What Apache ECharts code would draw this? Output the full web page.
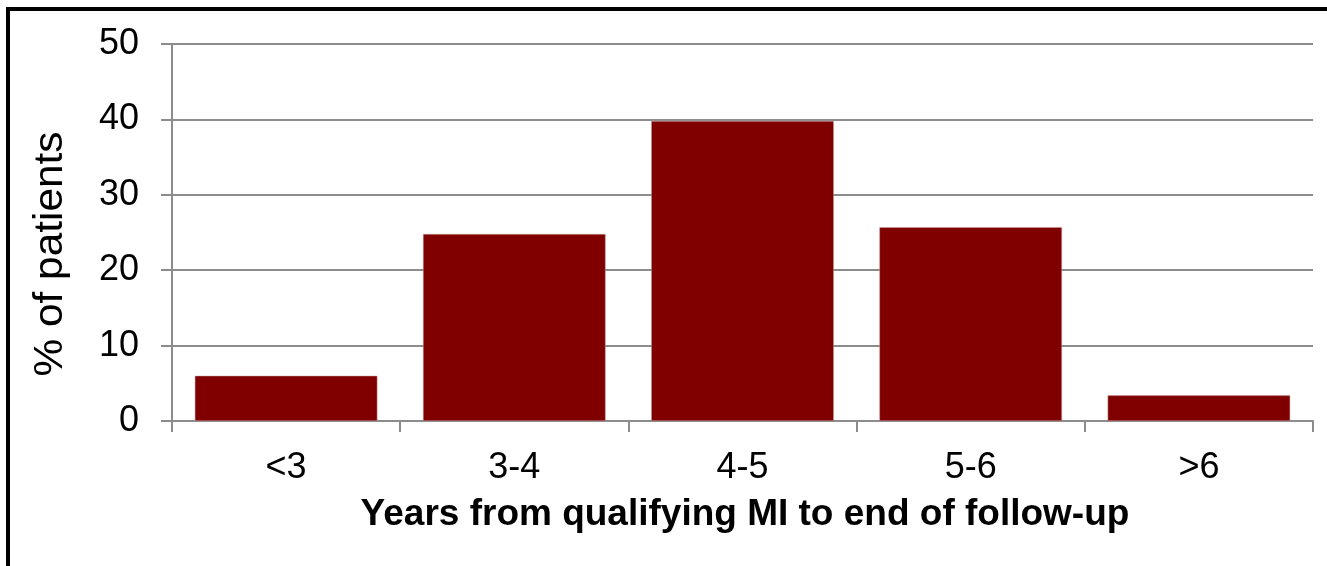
<!DOCTYPE html>
<html>
<head>
<meta charset="utf-8">
<script src="https://cdn.jsdelivr.net/npm/echarts@6/dist/echarts.min.js"></script>
<style>
html,body{margin:0;padding:0;background:#fff;}
#chart{width:1327px;height:566px;}
</style>
</head>
<body>
<div id="chart"></div>
<script>
const categories = ['<3', '3-4', '4-5', '5-6', '>6'];
const percentPatients = [6.0, 24.8, 39.8, 25.7, 3.4];
const yTicks = { min: 0, max: 50, interval: 10 };
const xTitle = 'Years from qualifying MI to end of follow-up';
const yTitle = '% of patients';

const chart = echarts.init(document.getElementById('chart'), null, { renderer: 'canvas' });
const font = '"Liberation Sans", Arial, sans-serif';
const gray = '#8c8c8c';
chart.setOption({
  animation: false,
  backgroundColor: '#fff',
  grid: { left: 172, right: 14, top: 44, bottom: 145, containLabel: false },
  xAxis: {
    type: 'category',
    data: categories,
    axisLine: { show: true, lineStyle: { color: gray, width: 2 } },
    axisTick: { show: true, length: 11, lineStyle: { color: gray, width: 2 } },
    axisLabel: { color: '#000', fontFamily: font, fontSize: 36, margin: 29 }
  },
  yAxis: {
    type: 'value',
    min: yTicks.min, max: yTicks.max, interval: yTicks.interval,
    axisLine: { show: true, lineStyle: { color: gray, width: 2 } },
    axisTick: { show: true, length: 11, lineStyle: { color: gray, width: 2 } },
    splitLine: { show: true, lineStyle: { color: gray, width: 2 } },
    axisLabel: { color: '#000', fontFamily: font, fontSize: 36, margin: 33 }
  },
  series: [{
    type: 'bar',
    data: percentPatients,
    barCategoryGap: '20%',
    itemStyle: { color: '#800000', borderColor: '#c9a0a0', borderWidth: 0.5 }
  }],
  graphic: [
    { type: 'rect', shape: { x: 6, y: 7, width: 4, height: 566 }, style: { fill: '#000' }, z: 100 },
    { type: 'rect', shape: { x: 6, y: 7, width: 1327, height: 4 }, style: { fill: '#000' }, z: 100 },
    { type: 'text', x: 745, y: 515,
      style: { text: xTitle, fill: '#000', font: 'bold 37px "Liberation Sans", Arial, sans-serif', textAlign: 'center', textVerticalAlign: 'middle' } },
    { type: 'text', x: 51, y: 254, rotation: Math.PI / 2, scaleX: 1.06, scaleY: 1,
      style: { text: yTitle, fill: '#000', font: '40px "Liberation Sans", Arial, sans-serif', textAlign: 'center', textVerticalAlign: 'middle' } }
  ]
});
</script>
</body>
</html>
